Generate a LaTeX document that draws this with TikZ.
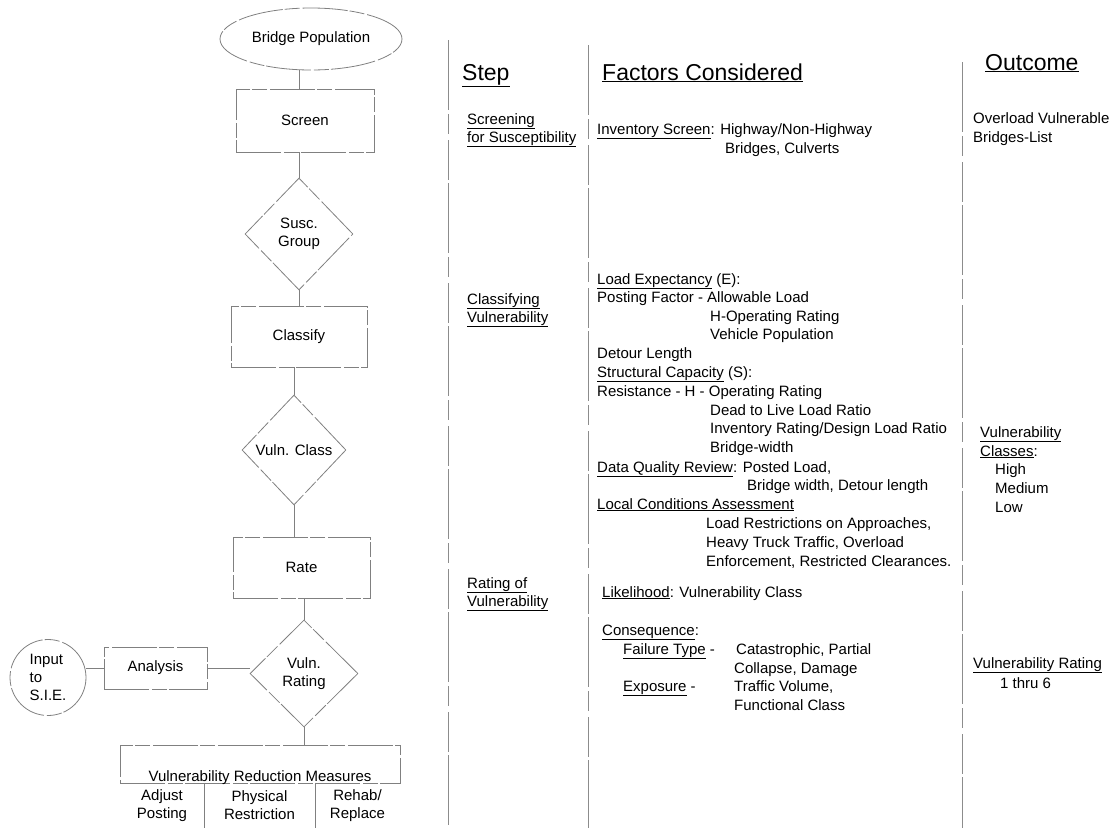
\documentclass[tikz,border=0pt]{standalone}
\usepackage{fontspec}
\setmainfont{Liberation Sans}
\usetikzlibrary{shapes.geometric}
\newcommand\bodysz{\fontsize{15}{18}\selectfont}
\newcommand\headsz{\fontsize{23}{26}\selectfont}
\begin{document}
\begin{tikzpicture}[x=1pt,y=-1pt,
  every node/.style={font=\bodysz, text=black},
  line/.style={draw=black!50, line width=0.8pt, dash pattern=on 45pt off 3pt on 15pt off 2pt},
  box/.style={line, rectangle, inner sep=0pt},
  dia/.style={line, diamond, inner sep=1pt, align=center},
  txt/.style={anchor=base west, inner sep=0pt},
  sep/.style={draw=black!45, line width=0.9pt, dash pattern=on 70pt off 4pt on 20pt off 6pt on 40pt off 3pt}]
\useasboundingbox (0,0) rectangle (1109,828);

% ---- flowchart ----
\node[line, ellipse, minimum width=182pt, minimum height=62pt, inner sep=0pt] (bp) at (311,39) {Bridge Population};
\node[box, minimum width=138pt, minimum height=63pt] (screen) at (305,120.5) {Screen};
\node[dia, minimum width=108pt, minimum height=112pt] (sg) at (299,234) {Susc.\\Group};
\node[box, minimum width=136pt, minimum height=61pt] (classify) at (299,336.5) {Classify};
\node[dia, minimum width=104pt, minimum height=110pt] (vc) at (294,450) {Vuln. Class};
\node[box, minimum width=137pt, minimum height=61pt] (rate) at (301.5,567.5) {Rate};
\node[dia, minimum width=108pt, minimum height=107pt] (vr) at (304,673.5) {Vuln.\\Rating};
\node[box, minimum width=103pt, minimum height=42pt] (analysis) at (155.5,668) {Analysis};
\node[line, circle, minimum size=76pt, inner sep=0pt, align=left] (sie) at (48,677.5) {Input\\to\\S.I.E.};

% table
\node[box, minimum width=280pt, minimum height=38pt] (hdr) at (260,764) {};
\node[anchor=base, inner sep=0pt] (hdrtext) at (260,781) {Vulnerability Reduction Measures};
\node[minimum width=84pt, minimum height=45pt, inner sep=0pt, align=center] (c1) at (162,805.5) {Adjust\\Posting};
\node[minimum width=111pt, minimum height=45pt, inner sep=0pt, align=center] (c2) at (259.5,805.5) {Physical\\Restriction};
\node[minimum width=85pt, minimum height=45pt, inner sep=0pt, align=center] (c3) at (357.5,805.5) {Rehab/\\Replace};
\draw[line] (c1.north east) -- (c1.south east);
\draw[line] (c2.north east) -- (c2.south east);

% connectors
\draw[line] (bp.south -| sg.north) -- (screen.north -| sg.north);
\draw[line] (screen.south -| sg.north) -- (sg.north);
\draw[line] (sg.south) -- (classify.north -| sg.south);
\draw[line] (classify.south -| vc.north) -- (vc.north);
\draw[line] (vc.south) -- (rate.north -| vc.south);
\draw[line] (rate.south -| vr.north) -- (vr.north);
\draw[line] (analysis.east) -- (analysis.east -| vr.west);
\draw[line] (sie.east |- analysis.west) -- (analysis.west);
\draw[line] (vr.south) -- (vr.south |- hdr.north);

% separators
\coordinate (s1t) at (448,40);  \coordinate (s1b) at (448,828);
\coordinate (s2t) at (588,45);  \coordinate (s2b) at (588,828);
\coordinate (s3t) at (962,62);  \coordinate (s3b) at (962,828);
\draw[sep] (s1t) -- (s1b);
\draw[sep] (s2t) -- (s2b);
\draw[sep] (s3t) -- (s3b);

% headers
\node[txt, font=\headsz] (hstep) at (462,80) {\underline{Step}};
\node[txt, font=\headsz] (hfac) at (602,80) {\underline{Factors Considered}};
\node[txt, font=\headsz] (hout) at (985,70) {\underline{Outcome}};

% step column
\node[txt] (st1) at (467,124) {\underline{Screening}};
\node[txt] (st2) at (467,142) {\underline{for Susceptibility}};
\node[txt] (st3) at (467,304) {\underline{Classifying}};
\node[txt] (st4) at (467,322) {\underline{Vulnerability}};
\node[txt] (st5) at (467,588) {\underline{Rating of}};
\node[txt] (st6) at (467,606) {\underline{Vulnerability}};

% factors column
\node[txt] (f1) at (597,134) {\underline{Inventory Screen}: Highway/Non-Highway};
\node[txt] (f2) at (725,153) {Bridges, Culverts};
\node[txt] (f3) at (597,284) {\underline{Load Expectancy} (E):};
\node[txt] (f4) at (597,302) {Posting Factor - Allowable Load};
\node[txt] (f5) at (710,321) {H-Operating Rating};
\node[txt] (f6) at (710,339) {Vehicle Population};
\node[txt] (f7) at (597,358) {Detour Length};
\node[txt] (f8) at (597,377) {\underline{Structural Capacity} (S):};
\node[txt] (f9) at (597,396) {Resistance - H - Operating Rating};
\node[txt] (f10) at (710,415) {Dead to Live Load Ratio};
\node[txt] (f11) at (710,433) {Inventory Rating/Design Load Ratio};
\node[txt] (f12) at (710,452) {Bridge-width};
\node[txt] (f13) at (597,472) {\underline{Data Quality Review}: Posted Load,};
\node[txt] (f14) at (747,490) {Bridge width, Detour length};
\node[txt] (f15) at (597,509) {\underline{Local Conditions Assessment}};
\node[txt] (f16) at (706,528) {Load Restrictions on Approaches,};
\node[txt] (f17) at (706,547) {Heavy Truck Traffic, Overload};
\node[txt] (f18) at (706,566) {Enforcement, Restricted Clearances.};
\node[txt] (f19) at (602,597) {\underline{Likelihood}: Vulnerability Class};
\node[txt] (f20) at (602,635) {\underline{Consequence}:};
\node[txt] (f21) at (623,654) {\underline{Failure Type} -};
\node[txt] (f22) at (736,654) {Catastrophic, Partial};
\node[txt] (f23) at (734,673) {Collapse, Damage};
\node[txt] (f24) at (623,691) {\underline{Exposure} -};
\node[txt] (f25) at (734,691) {Traffic Volume,};
\node[txt] (f26) at (734,710) {Functional Class};

% outcome column
\node[txt] (o1) at (973,123) {Overload Vulnerable};
\node[txt] (o2) at (973,142) {Bridges-List};
\node[txt] (o3) at (980,437) {\underline{Vulnerability}};
\node[txt] (o4) at (980,456) {\underline{Classes}:};
\node[txt] (o5) at (995,474) {High};
\node[txt] (o6) at (995,493) {Medium};
\node[txt] (o7) at (995,512) {Low};
\node[txt] (o8) at (973,668) {\underline{Vulnerability Rating}};
\node[txt] (o9) at (1000,688) {1 thru 6};
\end{tikzpicture}
\end{document}
